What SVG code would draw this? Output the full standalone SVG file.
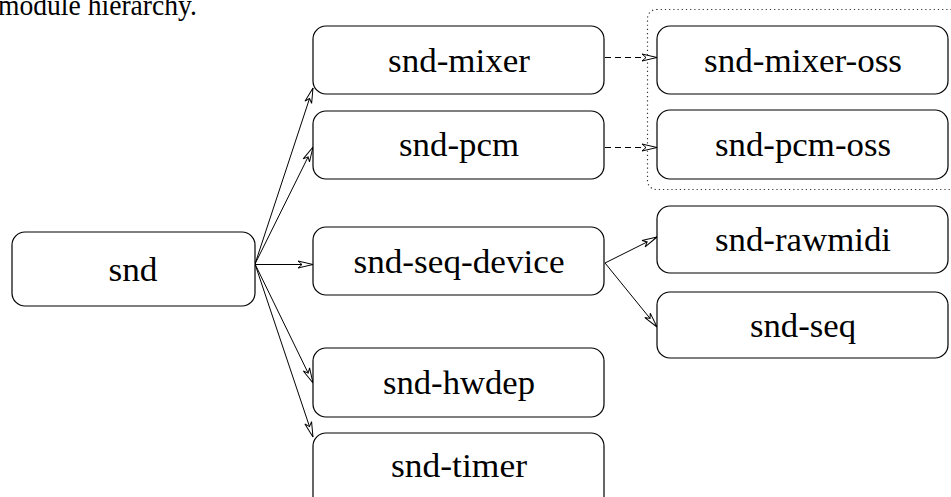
<svg xmlns="http://www.w3.org/2000/svg" width="951" height="497" viewBox="0 0 951 497">
<style>
.box{fill:#fff;stroke:#000;stroke-width:1.2}
.lbl{font-family:"Liberation Serif","Times New Roman",serif;font-size:34px;fill:#000;text-anchor:middle}
.edge{fill:none;stroke:#000;stroke-width:1}
.dash{stroke-dasharray:6 4}
</style>
<defs>
<marker id="ah" markerUnits="userSpaceOnUse" markerWidth="20" markerHeight="12" refX="16" refY="6" orient="auto">
<path d="M16,6 L1,2.5 L5,6 L1,9.5 Z" fill="#fff" stroke="#000" stroke-width="1"/>
</marker>
</defs>
<text x="-2" y="15" style="font-family:'Liberation Serif','Times New Roman',serif;font-size:30px" textLength="199" lengthAdjust="spacingAndGlyphs">module hierarchy.</text>
<rect x="647.5" y="9.5" width="330" height="180" rx="9" fill="none" stroke="#333" stroke-width="1.2" stroke-dasharray="1.2 3"/>
<g id="connectors">
<line class="edge" x1="255" y1="264" x2="313" y2="88" marker-end="url(#ah)"/>
<line class="edge" x1="255" y1="264" x2="313" y2="147" marker-end="url(#ah)"/>
<line class="edge" x1="255" y1="264.5" x2="313" y2="264.5" marker-end="url(#ah)"/>
<line class="edge" x1="255" y1="264" x2="313" y2="383" marker-end="url(#ah)"/>
<line class="edge" x1="255" y1="264" x2="313" y2="437" marker-end="url(#ah)"/>
<line class="edge dash" x1="605" y1="57.5" x2="657" y2="57.5" marker-end="url(#ah)"/>
<line class="edge dash" x1="605" y1="147.5" x2="657" y2="147.5" marker-end="url(#ah)"/>
<line class="edge" x1="605" y1="263" x2="657" y2="237" marker-end="url(#ah)"/>
<line class="edge" x1="605" y1="263" x2="657" y2="327" marker-end="url(#ah)"/>
</g>
<g id="snd"><rect class="box" x="12" y="232" width="243" height="74" rx="13"/><text class="lbl" x="133" y="281" textLength="49" lengthAdjust="spacingAndGlyphs">snd</text></g>
<g id="snd-mixer"><rect class="box" x="313" y="26" width="291" height="68" rx="13"/><text class="lbl" x="459" y="72" textLength="142" lengthAdjust="spacingAndGlyphs">snd-mixer</text></g>
<g id="snd-pcm"><rect class="box" x="313" y="111" width="291" height="68" rx="13"/><text class="lbl" x="459" y="156" textLength="120" lengthAdjust="spacingAndGlyphs">snd-pcm</text></g>
<g id="snd-seq-device"><rect class="box" x="313" y="227" width="291" height="68" rx="13"/><text class="lbl" x="459" y="273" textLength="211" lengthAdjust="spacingAndGlyphs">snd-seq-device</text></g>
<g id="snd-hwdep"><rect class="box" x="313" y="348" width="291" height="69" rx="13"/><text class="lbl" x="459" y="394" textLength="152" lengthAdjust="spacingAndGlyphs">snd-hwdep</text></g>
<g id="snd-timer"><rect class="box" x="313" y="433" width="291" height="80" rx="13"/><text class="lbl" x="459" y="477" textLength="136" lengthAdjust="spacingAndGlyphs">snd-timer</text></g>
<g id="snd-mixer-oss"><rect class="box" x="657" y="26" width="291" height="68" rx="13"/><text class="lbl" x="803" y="72" textLength="198" lengthAdjust="spacingAndGlyphs">snd-mixer-oss</text></g>
<g id="snd-pcm-oss"><rect class="box" x="657" y="110" width="291" height="69" rx="13"/><text class="lbl" x="803" y="156" textLength="176" lengthAdjust="spacingAndGlyphs">snd-pcm-oss</text></g>
<g id="snd-rawmidi"><rect class="box" x="657" y="206" width="291" height="67" rx="13"/><text class="lbl" x="803" y="251" textLength="176" lengthAdjust="spacingAndGlyphs">snd-rawmidi</text></g>
<g id="snd-seq"><rect class="box" x="657" y="292" width="291" height="66" rx="13"/><text class="lbl" x="803" y="337" textLength="106" lengthAdjust="spacingAndGlyphs">snd-seq</text></g>
</svg>
